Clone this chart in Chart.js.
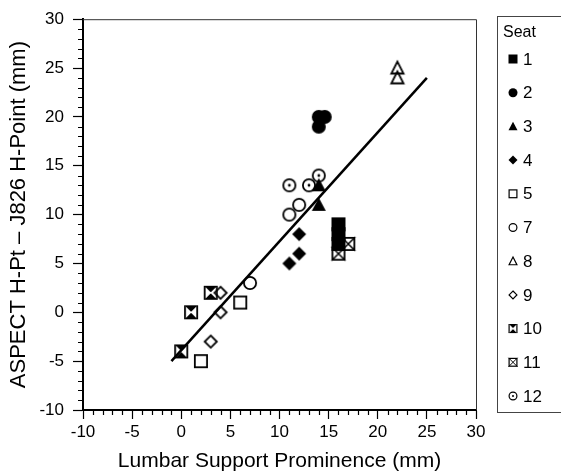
<!DOCTYPE html>
<html>
<head>
<meta charset="utf-8">
<script src="https://cdn.jsdelivr.net/npm/chart.js@4"></script>
<style>
  body { margin: 0; background: #fff; }
</style>
</head>
<body>
<canvas id="myChart" width="561" height="475"></canvas>
<script>
// --- data ---
const seatLabels = ['1', '2', '3', '4', '5', '7', '8', '9', '10', '11', '12']
const seatMarkers = ['sqFill', 'circFill', 'triFill', 'diaFill', 'sqOpen', 'circOpen', 'triOpen', 'diaOpen', 'sqHour', 'sqCross', 'circDot']
const seatX = [
  [16, 16, 16],
  [14, 14.6, 14],
  [14, 14],
  [12, 12, 11],
  [6, 2],
  [7, 11, 12],
  [22, 22],
  [4, 4, 3],
  [3, 1, 0],
  [16, 17],
  [11, 13, 14]
]
const seatY = [
  [9, 8, 7],
  [20, 20, 19],
  [11, 13],
  [8, 6, 5],
  [1, -5],
  [3, 10, 11],
  [25, 24],
  [2, 0, -3],
  [2, 0, -4],
  [6, 7],
  [13, 13, 14]
]
const fitX = [-1, 25]
const fitY = [-5, 24]
const tickValues = [-10, -5, 0, 5, 10, 15, 20, 25, 30]

const FONT = '"Liberation Sans", Arial, sans-serif'
Chart.defaults.color = '#000'
Chart.defaults.font.family = FONT

// draw one marker shape (used for points and legend)
function drawMarker(c, kind, x, y, s) {
  const h = s / 2
  const lw = s > 10 ? 1.8 : 1.2
  c.save()
  c.lineWidth = lw
  c.strokeStyle = '#000'
  c.fillStyle = '#000'
  c.beginPath()
  if (kind == 'sqFill') {
    c.fillRect(x - h, y - h, s, s)
  } else if (kind == 'circFill') {
    c.arc(x, y, h, 0, Math.PI * 2); c.fill()
  } else if (kind == 'triFill' || kind == 'triOpen') {
    const i = kind == 'triOpen' ? lw / 2 : 0
    c.moveTo(x, y - h * 1.05 + i)
    c.lineTo(x + h - i, y + h * 0.85 - i / 2)
    c.lineTo(x - h + i, y + h * 0.85 - i / 2)
    c.closePath()
    if (kind == 'triFill') c.fill(); else c.stroke()
  } else if (kind == 'diaFill' || kind == 'diaOpen') {
    const i = kind == 'diaOpen' ? lw / 2 : 0
    c.moveTo(x, y - h + i); c.lineTo(x + h - i, y); c.lineTo(x, y + h - i); c.lineTo(x - h + i, y)
    c.closePath()
    if (kind == 'diaFill') c.fill(); else c.stroke()
  } else if (kind == 'sqOpen') {
    c.strokeRect(x - h + lw / 2, y - h + lw / 2, s - lw, s - lw)
  } else if (kind == 'circOpen' || kind == 'circDot') {
    c.arc(x, y, h - lw / 2, 0, Math.PI * 2); c.stroke()
    if (kind == 'circDot') {
      c.beginPath(); c.arc(x, y, s > 10 ? 1.4 : 1, 0, Math.PI * 2); c.fill()
    }
  } else if (kind == 'sqHour') {
    c.fillStyle = '#fff'
    c.fillRect(x - h, y - h, s, s)
    c.fillStyle = '#000'
    c.beginPath(); c.moveTo(x - h, y - h); c.lineTo(x + h, y - h); c.lineTo(x, y); c.closePath(); c.fill()
    c.beginPath(); c.moveTo(x - h, y + h); c.lineTo(x + h, y + h); c.lineTo(x, y); c.closePath(); c.fill()
    c.strokeRect(x - h + lw / 2, y - h + lw / 2, s - lw, s - lw)
    c.strokeStyle = '#fff'; c.lineWidth = 1
    c.beginPath(); c.moveTo(x - h + lw, y - h + lw); c.lineTo(x + h - lw, y + h - lw)
    c.moveTo(x + h - lw, y - h + lw); c.lineTo(x - h + lw, y + h - lw); c.stroke()
  } else if (kind == 'sqCross') {
    c.fillStyle = '#fff'
    c.fillRect(x - h, y - h, s, s)
    c.strokeRect(x - h + lw / 2, y - h + lw / 2, s - lw, s - lw)
    c.lineWidth = lw * 0.8
    c.beginPath(); c.moveTo(x - h, y - h); c.lineTo(x + h, y + h)
    c.moveTo(x + h, y - h); c.lineTo(x - h, y + h); c.stroke()
  }
  c.restore()
}

function markerCanvas(kind, s) {
  const cv = document.createElement('canvas')
  cv.width = s + 4
  cv.height = s + 4
  drawMarker(cv.getContext('2d'), kind, cv.width / 2, cv.height / 2, s)
  return cv
}

const datasets = seatLabels.map((lab, i) => ({
  type: 'scatter',
  label: lab,
  data: seatX[i].map((x, j) => ({ x: x, y: seatY[i][j] })),
  pointStyle: markerCanvas(seatMarkers[i], 14),
  pointRadius: 7,
  order: 1
}))
datasets.push({
  type: 'line',
  label: 'fit',
  data: fitX.map((x, j) => ({ x: x, y: fitY[j] })),
  borderColor: '#000',
  borderWidth: 2.5,
  pointRadius: 0,
  fill: false,
  order: 0
})

// frame, minor ticks and the legend box
const extras = {
  id: 'extras',
  beforeDatasetsDraw(chart) {
    const { ctx, chartArea: a } = chart
    ctx.save()
    ctx.strokeStyle = '#333'
    ctx.lineWidth = 1
    ctx.beginPath()
    ctx.moveTo(a.left, a.top + 0.5); ctx.lineTo(a.right + 0.5, a.top + 0.5); ctx.lineTo(a.right + 0.5, a.bottom)
    ctx.stroke()
    // minor ticks
    const xs = chart.scales.x, ys = chart.scales.y
    ctx.strokeStyle = '#000'
    ctx.lineWidth = 1.2
    ctx.beginPath()
    for (let v = -10; v <= 30; v++) {
      if (v % 5 == 0) continue
      const px = Math.round(xs.getPixelForValue(v)) + 0.5
      ctx.moveTo(px, a.bottom); ctx.lineTo(px, a.bottom + 5)
      const py = Math.round(ys.getPixelForValue(v)) + 0.5
      ctx.moveTo(a.left, py); ctx.lineTo(a.left - 5, py)
    }
    ctx.stroke()
    ctx.restore()
  },
  afterDraw(chart) {
    const ctx = chart.ctx
    ctx.save()
    ctx.strokeStyle = '#444'
    ctx.lineWidth = 1
    ctx.strokeRect(497.5, 16.5, 80, 396)
    ctx.font = '16px ' + FONT
    ctx.fillStyle = '#000'
    ctx.textBaseline = 'middle'
    ctx.fillText('Seat', 503, 33)
    ctx.font = '17px ' + FONT
    seatLabels.forEach((lab, i) => {
      const y = 59 + i * 33.7
      drawMarker(ctx, seatMarkers[i], 513, y, 9)
      ctx.fillText(lab, 523, y + 1)
    })
    ctx.restore()
  }
}

const axisFont = { size: 17 }
new Chart(document.getElementById('myChart'), {
  data: { datasets: datasets },
  options: {
    responsive: false,
    animation: false,
    layout: { padding: { top: 17, right: 85, left: 0, bottom: 0 } },
    plugins: { legend: { display: false }, tooltip: { enabled: false } },
    scales: {
      x: {
        type: 'linear',
        min: -10, max: 30,
        afterBuildTicks: s => { s.ticks = tickValues.map(v => ({ value: v })) },
        afterFit: s => { s.height = 65 },
        ticks: { font: axisFont, padding: 3, maxRotation: 0, autoSkip: false },
        grid: { drawOnChartArea: false, tickLength: 9, tickColor: '#000', tickWidth: 1.2 },
        border: { color: '#000', width: 2 },
        title: { display: true, text: 'Lumbar Support Prominence (mm)', font: { size: 21 }, padding: { bottom: 1 } }
      },
      y: {
        type: 'linear',
        min: -10, max: 30,
        afterBuildTicks: s => { s.ticks = tickValues.map(v => ({ value: v })) },
        afterFit: s => { s.width = 83 },
        ticks: { font: axisFont, padding: 9, autoSkip: false },
        grid: { drawOnChartArea: false, tickLength: 10, tickColor: '#000', tickWidth: 1.2 },
        border: { color: '#000', width: 2 },
        title: { display: true, text: 'ASPECT H-Pt – J826 H-Point (mm)', font: { size: 22 }, padding: { top: 6 } }
      }
    }
  },
  plugins: [extras]
})
</script>
</body>
</html>
